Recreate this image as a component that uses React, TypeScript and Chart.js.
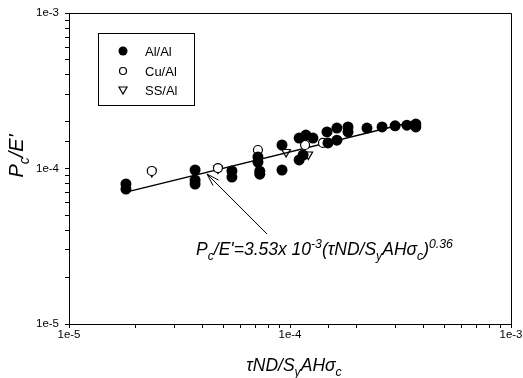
import React, { useEffect, useRef } from "react";
import { Chart, registerables } from "chart.js";

Chart.register(...registerables);

// Al/Al (filled circles)
const alX = [1.81e-5, 1.81e-5, 3.72e-5, 3.72e-5, 3.72e-5, 5.46e-5, 5.46e-5, 7.16e-5, 7.16e-5, 7.3e-5, 7.3e-5, 9.2e-5, 9.2e-5, 1.10e-4, 1.18e-4, 1.27e-4, 1.10e-4, 1.146e-4, 1.47e-4, 1.486e-4, 1.63e-4, 1.63e-4, 1.83e-4, 1.83e-4, 2.23e-4, 2.61e-4, 2.99e-4, 3.38e-4, 3.71e-4, 3.71e-4];
const alY = [7.95e-5, 7.38e-5, 9.78e-5, 8.43e-5, 7.95e-5, 9.64e-5, 8.81e-5, 1.186e-4, 1.10e-4, 9.6e-5, 9.2e-5, 1.416e-4, 9.78e-5, 1.57e-4, 1.64e-4, 1.57e-4, 1.135e-4, 1.22e-4, 1.72e-4, 1.46e-4, 1.82e-4, 1.52e-4, 1.85e-4, 1.72e-4, 1.82e-4, 1.85e-4, 1.88e-4, 1.90e-4, 1.93e-4, 1.85e-4];
// Cu/Al (open circles)
const cuX = [2.37e-5, 4.72e-5, 7.16e-5, 1.17e-4, 1.41e-4];
const cuY = [9.64e-5, 1.007e-4, 1.315e-4, 1.416e-4, 1.46e-4];
// SS/Al (open down triangles)
const ssX = [2.37e-5, 4.72e-5, 7.16e-5, 9.6e-5, 1.21e-4];
const ssY = [9.5e-5, 1.0e-4, 1.054e-4, 1.277e-4, 1.23e-4];
// Fitted line end points
const fitX = [1.85e-5, 3.72e-4];
const fitY = [7.1e-5, 2.02e-4];
// Arrow (tail -> tip)
const arrowX = [7.87e-5, 4.21e-5];
const arrowY = [3.79e-5, 9.22e-5];

const seriesNames = ["Al/Al", "Cu/Al", "SS/Al"];
const xTickLabels = ["1e-5", "1e-4", "1e-3"];
const yTickLabels = ["1e-5", "1e-4", "1e-3"];

const FONT = '"Liberation Sans", Arial, sans-serif';

type Seg = { t: string; sub?: boolean; sup?: boolean };

function richWidth(ctx: CanvasRenderingContext2D, segs: Seg[], size: number) {
  let w = 0;
  for (const s of segs) {
    const fs = s.sub || s.sup ? size * 0.7 : size;
    ctx.font = `italic ${fs}px ${FONT}`;
    w += ctx.measureText(s.t).width;
  }
  return w;
}

function drawRich(ctx: CanvasRenderingContext2D, x: number, y: number, segs: Seg[], size: number) {
  let cx = x;
  ctx.textBaseline = "alphabetic";
  ctx.textAlign = "left";
  ctx.fillStyle = "#000";
  for (const s of segs) {
    const fs = s.sub || s.sup ? size * 0.7 : size;
    ctx.font = `italic ${fs}px ${FONT}`;
    const dy = s.sub ? size * 0.3 : s.sup ? -size * 0.42 : 0;
    ctx.fillText(s.t, cx, y + dy);
    cx += ctx.measureText(s.t).width;
  }
}

const decorPlugin = {
  id: "decor",
  afterDraw(chart: any) {
    const ctx: CanvasRenderingContext2D = chart.ctx;
    const { left, right, top, bottom } = chart.chartArea;
    const xs = chart.scales.x;
    const ys = chart.scales.y;
    ctx.save();
    // frame
    ctx.strokeStyle = "#000";
    ctx.lineWidth = 1;
    ctx.beginPath();
    ctx.moveTo(left, top + 0.5);
    ctx.lineTo(right + 0.5, top + 0.5);
    ctx.lineTo(right + 0.5, bottom);
    ctx.stroke();

    // legend
    ctx.strokeStyle = "#000";
    ctx.lineWidth = 1;
    ctx.strokeRect(98.5, 33.5, 96, 72);
    const rows = [51, 71, 90];
    const mx = 123;
    ctx.fillStyle = "#000";
    ctx.beginPath();
    ctx.arc(mx, rows[0], 4.5, 0, Math.PI * 2);
    ctx.fill();
    ctx.beginPath();
    ctx.arc(mx, rows[1], 3.5, 0, Math.PI * 2);
    ctx.lineWidth = 1.2;
    ctx.stroke();
    ctx.beginPath();
    ctx.moveTo(mx - 4, rows[2] - 3);
    ctx.lineTo(mx + 4, rows[2] - 3);
    ctx.lineTo(mx, rows[2] + 4);
    ctx.closePath();
    ctx.stroke();
    ctx.font = `13px ${FONT}`;
    ctx.textBaseline = "middle";
    ctx.textAlign = "left";
    ctx.fillStyle = "#000";
    seriesNames.forEach((n, i) => ctx.fillText(n, 145, rows[i] + 1));

    // arrow
    const tx = xs.getPixelForValue(arrowX[0]);
    const ty = ys.getPixelForValue(arrowY[0]);
    const hx = xs.getPixelForValue(arrowX[1]);
    const hy = ys.getPixelForValue(arrowY[1]);
    ctx.lineWidth = 1;
    ctx.beginPath();
    ctx.moveTo(tx, ty);
    ctx.lineTo(hx, hy);
    const ang = Math.atan2(ty - hy, tx - hx);
    const L = 13;
    const a = 0.3;
    ctx.moveTo(hx + L * Math.cos(ang - a), hy + L * Math.sin(ang - a));
    ctx.lineTo(hx, hy);
    ctx.lineTo(hx + L * Math.cos(ang + a), hy + L * Math.sin(ang + a));
    ctx.stroke();

    // annotation equation
    const eq: Seg[] = [
      { t: "P" }, { t: "c", sub: true }, { t: "/E'=3.53x 10" }, { t: "-3", sup: true },
      { t: "(\u03C4ND/S" }, { t: "y", sub: true }, { t: "AH\u03C3" }, { t: "c", sub: true },
      { t: ")" }, { t: "0.36", sup: true },
    ];
    drawRich(ctx, 196, 255, eq, 17.5);

    // x title
    const xt: Seg[] = [
      { t: "\u03C4ND/S" }, { t: "y", sub: true }, { t: "AH\u03C3" }, { t: "c", sub: true },
    ];
    const xw = richWidth(ctx, xt, 17.5);
    drawRich(ctx, (left + right) / 2 - xw / 2 + 4, 371, xt, 17.5);

    // y title
    const yt: Seg[] = [{ t: "P" }, { t: "c", sub: true }, { t: "/E'" }];
    const yw = richWidth(ctx, yt, 20);
    ctx.translate(23, 156);
    ctx.rotate(-Math.PI / 2);
    drawRich(ctx, -yw / 2, 0, yt, 20);
    ctx.restore();
  },
};

function tickCb(labels: string[]) {
  return (v: any) => {
    const l = Math.log10(Number(v));
    if (Math.abs(l - Math.round(l)) < 1e-6) {
      const idx = Math.round(l) + 5;
      return labels[idx] ?? "";
    }
    return "";
  };
}

export default function App() {
  const ref = useRef<HTMLCanvasElement>(null);
  useEffect(() => {
    if (!ref.current) return;
    const toPts = (xs: number[], ys: number[]) => xs.map((x, i) => ({ x, y: ys[i] }));
    const chart = new Chart(ref.current, {
      type: "scatter",
      data: {
        datasets: [
          {
            label: "fit",
            data: toPts(fitX, fitY),
            showLine: true,
            borderColor: "#000",
            borderWidth: 1.5,
            pointRadius: 0,
            order: 4,
          } as any,
          {
            label: seriesNames[0],
            data: toPts(alX, alY),
            pointStyle: "circle",
            pointRadius: 5.5,
            backgroundColor: "#000",
            borderColor: "#000",
            borderWidth: 0,
            order: 1,
          },
          {
            label: seriesNames[1],
            data: toPts(cuX, cuY),
            pointStyle: "circle",
            pointRadius: 4.5,
            backgroundColor: "#fff",
            borderColor: "#000",
            borderWidth: 1.2,
            order: 2,
          },
          {
            label: seriesNames[2],
            data: toPts(ssX, ssY),
            pointStyle: "triangle",
            rotation: 180,
            pointRadius: 5,
            backgroundColor: "rgba(255,255,255,0)",
            borderColor: "#000",
            borderWidth: 1.2,
            order: 3,
          } as any,
        ],
      },
      options: {
        animation: false,
        responsive: false,
        maintainAspectRatio: false,
        layout: { padding: { top: 13, right: 12, left: 0, bottom: 0 } },
        plugins: { legend: { display: false }, tooltip: { enabled: false }, title: { display: false } },
        scales: {
          x: {
            type: "logarithmic",
            min: 1e-5,
            max: 1e-3,
            border: { color: "#000", width: 1 },
            grid: { drawOnChartArea: false, drawTicks: true, tickLength: 4, color: "#000" },
            ticks: {
              autoSkip: false,
              maxRotation: 0,
              padding: 0,
              color: "#000",
              font: { family: FONT, size: 11.5 },
              callback: tickCb(xTickLabels),
            },
            afterFit: (s: any) => {
              s.height = 54;
            },
          },
          y: {
            type: "logarithmic",
            min: 1e-5,
            max: 1e-3,
            border: { color: "#000", width: 1 },
            grid: { drawOnChartArea: false, drawTicks: true, tickLength: 4, color: "#000" },
            ticks: {
              autoSkip: false,
              padding: 6,
              color: "#000",
              font: { family: FONT, size: 11.5 },
              callback: tickCb(yTickLabels),
            },
            afterFit: (s: any) => {
              s.width = 69;
              s.paddingTop = 0;
              s.paddingBottom = 0;
            },
          },
        },
      } as any,
      plugins: [decorPlugin],
    });
    return () => chart.destroy();
  }, []);
  return (
    <div style={{ position: "fixed", left: 0, top: 0, width: 523, height: 378, background: "#fff" }}>
      <canvas ref={ref} width={523} height={378} style={{ width: 523, height: 378 }} />
    </div>
  );
}
